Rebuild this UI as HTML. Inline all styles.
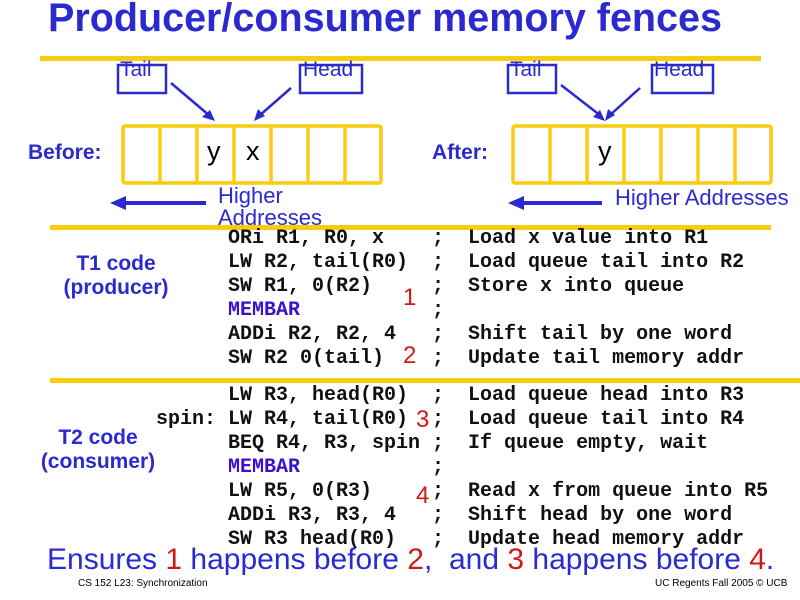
<!DOCTYPE html>
<html><head><style>
body{margin:0;width:800px;height:600px;background:#fff;position:relative;overflow:hidden;font-family:"Liberation Sans",sans-serif}
.a{position:absolute;white-space:pre}
.b{color:#2a2ad0}
.m{font-family:"Liberation Mono",monospace;font-weight:bold;font-size:20px;color:#111;line-height:24px}
.p{color:#3a10d0}
.r{color:#d01818;font-size:24px;font-family:"Liberation Sans",sans-serif;font-weight:normal}
.yl{position:absolute;height:5px;background:#f8cc10}
</style></head><body>
<div class="a b" style="left:48px;top:-4px;font-size:39.5px;font-weight:bold">Producer/consumer memory fences</div>
<div class="yl" style="left:40px;top:56px;width:721px"></div>
<div class="yl" style="left:50px;top:225px;width:721px"></div>
<div class="yl" style="left:50px;top:378px;width:750px"></div>
<svg class="a" style="left:0;top:0" width="800" height="600">
<g fill="none" stroke="#2a2ad0" stroke-width="2.5">
<rect x="118" y="65" width="48" height="28"/>
<rect x="300" y="65" width="62" height="28"/>
<rect x="508" y="65" width="48" height="28"/>
<rect x="652" y="65" width="61" height="28"/>
<line x1="171" y1="83" x2="210" y2="116"/>
<line x1="291" y1="88" x2="259" y2="116"/>
<line x1="561" y1="85" x2="601" y2="116"/>
<line x1="640" y1="88" x2="609" y2="116"/>
</g>
<g fill="#2a2ad0">
<polygon points="215,121 202,117 210,110"/>
<polygon points="254,121 258,109 265,116"/>
<polygon points="605,121 593,117 600,110"/>
<polygon points="605,121 608,109 615,115"/>
<rect x="124" y="201" width="82" height="4"/><polygon points="110,203 126,196 126,210"/>
<rect x="522" y="201" width="80" height="4"/><polygon points="508,203 524,196 524,210"/>
</g>
<g fill="none" stroke="#f8cc10" stroke-width="3.5">
<rect x="123" y="126" width="258" height="57" rx="2"/>
<line x1="160" y1="126" x2="160" y2="183"/><line x1="197" y1="126" x2="197" y2="183"/><line x1="234" y1="126" x2="234" y2="183"/><line x1="271" y1="126" x2="271" y2="183"/><line x1="308" y1="126" x2="308" y2="183"/><line x1="345" y1="126" x2="345" y2="183"/>
<rect x="513" y="126" width="258" height="57" rx="2"/>
<line x1="550" y1="126" x2="550" y2="183"/><line x1="587" y1="126" x2="587" y2="183"/><line x1="624" y1="126" x2="624" y2="183"/><line x1="661" y1="126" x2="661" y2="183"/><line x1="698" y1="126" x2="698" y2="183"/><line x1="735" y1="126" x2="735" y2="183"/>
</g>
</svg>
<div class="a b" style="left:120px;top:58px;font-size:21px">Tail</div>
<div class="a b" style="left:303px;top:58px;font-size:21px">Head</div>
<div class="a b" style="left:510px;top:58px;font-size:21px">Tail</div>
<div class="a b" style="left:654px;top:58px;font-size:21px">Head</div>
<div class="a b" style="left:28px;top:141px;font-size:21px;font-weight:bold">Before:</div>
<div class="a b" style="left:432px;top:141px;font-size:21px;font-weight:bold">After:</div>
<div class="a" style="left:207px;top:136px;font-size:27px">y</div>
<div class="a" style="left:246px;top:136px;font-size:27px">x</div>
<div class="a" style="left:598px;top:136px;font-size:27px">y</div>
<div class="a b" style="left:218px;top:185px;font-size:22px;line-height:22px">Higher
Addresses</div>
<div class="a b" style="left:615px;top:185px;font-size:22px">Higher Addresses</div>
<div class="a b" style="left:56px;top:252px;font-size:21px;font-weight:bold;text-align:center;line-height:24px;width:120px">T1 code
(producer)</div>
<div class="a b" style="left:30px;top:426px;font-size:21px;font-weight:bold;text-align:center;line-height:24px;width:136px">T2 code
(consumer)</div>
<div class="a m" style="left:228px;top:227px">ORi R1, R0, x    ;  Load x value into R1
LW R2, tail(R0)  ;  Load queue tail into R2
SW R1, 0(R2)     ;  Store x into queue
<span class="p">MEMBAR</span>           ;
ADDi R2, R2, 4   ;  Shift tail by one word
SW R2 0(tail)    ;  Update tail memory addr</div>
<div class="a m" style="left:156px;top:384px">      LW R3, head(R0)  ;  Load queue head into R3
spin: LW R4, tail(R0)  ;  Load queue tail into R4
      BEQ R4, R3, spin ;  If queue empty, wait
      <span class="p">MEMBAR</span>           ;
      LW R5, 0(R3)     ;  Read x from queue into R5
      ADDi R3, R3, 4   ;  Shift head by one word
      SW R3 head(R0)   ;  Update head memory addr</div>
<div class="a r" style="left:403px;top:284px">1</div>
<div class="a r" style="left:403px;top:342px">2</div>
<div class="a r" style="left:416px;top:406px">3</div>
<div class="a r" style="left:416px;top:482px">4</div>
<div class="a b" style="left:47px;top:543px;font-size:30px">Ensures <span style="color:#d01818">1</span> happens before <span style="color:#d01818">2</span>,  and <span style="color:#d01818">3</span> happens before <span style="color:#d01818">4</span>.</div>
<div class="a" style="left:78px;top:578px;font-size:10px">CS 152 L23: Synchronization</div>
<div class="a" style="left:655px;top:578px;font-size:10px">UC Regents Fall 2005 © UCB</div>
</body></html>
